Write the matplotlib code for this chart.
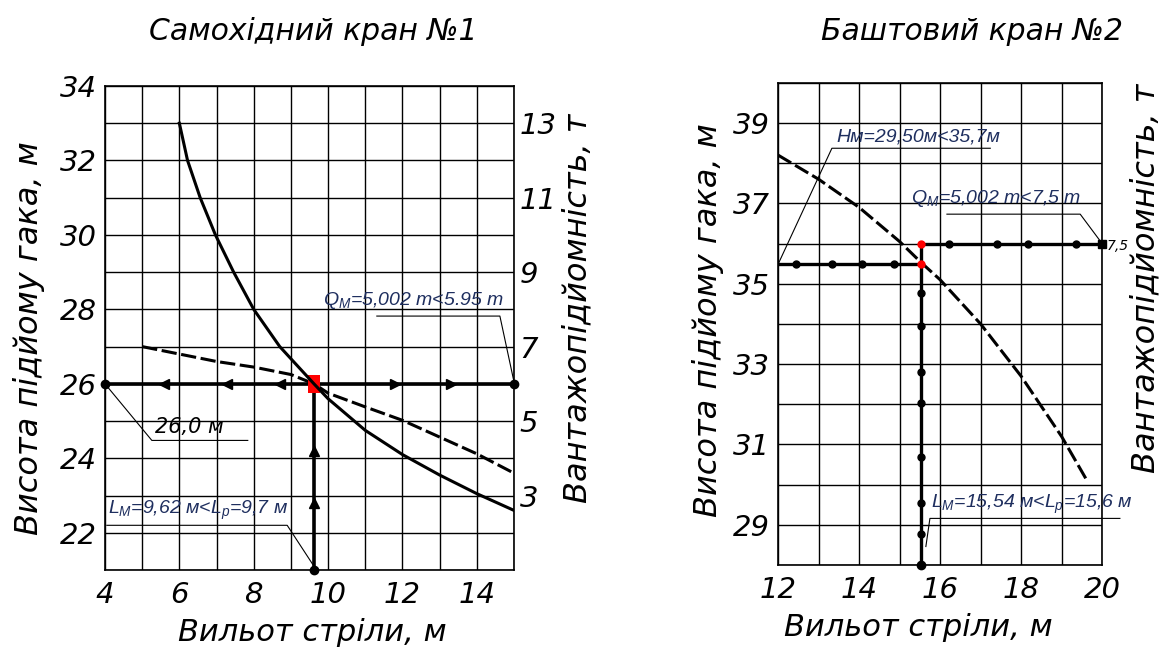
"""Crane capacity / hook-height charts for two cranes (Самохідний / Баштовий)."""

import matplotlib
matplotlib.use("Agg")  # no display
import matplotlib.pyplot as plt
from matplotlib.ticker import MultipleLocator

# ---- crane 1: self-propelled ----
crane1_reach_q = [6.0, 6.22, 6.56, 6.97, 7.46, 8.0, 8.7, 9.62, 10.0, 11.0, 12.0, 13.0, 14.0, 15.0]
crane1_load = [13.0, 12.0, 11.0, 10.0, 9.0, 8.0, 7.0, 6.0, 5.6, 4.75, 4.1, 3.55, 3.05, 2.6]
crane1_reach_h = [5.0, 6.0, 7.0, 8.0, 9.0, 9.62, 10.0, 11.0, 12.0, 13.0, 14.0, 15.0]
crane1_height = [27.0, 26.8, 26.6, 26.45, 26.25, 26.0, 25.75, 25.38, 25.02, 24.57, 24.12, 23.6]
crane1_lm = 9.62
crane1_hm = 26.0
crane1_arrows_left = [5.58, 7.28, 8.7]
crane1_arrows_right = [11.8, 13.3]
crane1_arrows_up = [22.8, 24.2]

# ---- crane 2: tower ----
crane2_reach = [12.0, 13.0, 14.0, 15.0, 15.54, 16.0, 17.0, 18.0, 19.0, 19.6]
crane2_height = [38.2, 37.6, 36.9, 36.05, 35.52, 35.1, 34.0, 32.7, 31.2, 30.15]
crane2_lm = 15.54
crane2_hm = 35.48
crane2_qline = 36.0
crane2_dots_q = [16.21, 17.41, 18.17, 19.36]
crane2_dots_h = [12.45, 13.33, 14.07, 14.86]
crane2_dots_v = [34.78, 33.94, 32.8, 32.03, 30.7, 29.55, 28.77]

plt.rcParams["font.family"] = ["DejaVu Sans"]
plt.rcParams["font.style"] = "italic"
plt.rcParams["mathtext.fontset"] = "custom"
plt.rcParams["mathtext.it"] = "Liberation Sans:italic"
plt.rcParams["mathtext.rm"] = "Liberation Sans:italic"

ANN = "#1f2f5f"
ANN_FONT = ["Liberation Sans Narrow", "Liberation Sans", "DejaVu Sans"]
TICK_SIZE = 21
XLABEL_SIZE = 22
YLABEL_SIZE = 23
TALL_BOX = [(-0.35, -0.5), (0.35, -0.5), (0.35, 0.5), (-0.35, 0.5), (-0.35, -0.5)]


def style_axes(ax, xlim, ylim, xticks, yticks):
    ax.set_xlim(*xlim); ax.set_ylim(*ylim)
    ax.set_xticks(xticks); ax.set_yticks(yticks)
    ax.xaxis.set_minor_locator(MultipleLocator(1))
    ax.yaxis.set_minor_locator(MultipleLocator(1))
    ax.grid(which="both", color="black", lw=1.0, zorder=0)
    ax.set_axisbelow(True)
    ax.tick_params(which="both", length=0, labelsize=TICK_SIZE)
    ax.tick_params(axis="x", pad=8)
    ax.tick_params(axis="y", pad=6)
    for s in ax.spines.values():
        s.set_color("black"); s.set_linewidth(1.2)


fig = plt.figure(figsize=(11.64, 6.52), dpi=100)

# ================= crane 1 =================
ax1 = fig.add_axes([0.0902, 0.1258, 0.3514, 0.7423])
style_axes(ax1, (4, 15), (21, 34), range(4, 15, 2), range(22, 35, 2))
ax1r = ax1.twinx()
ax1r.set_ylim(1, 14)
ax1r.set_yticks(range(3, 14, 2))
ax1r.tick_params(length=0, labelsize=TICK_SIZE, pad=4)
for s in ax1r.spines.values():
    s.set_visible(False)

ax1.plot(crane1_reach_h, crane1_height, color="black", lw=2.2, ls=(0, (5, 1.5)), zorder=3)
ax1r.plot(crane1_reach_q, crane1_load, color="black", lw=2.2, zorder=3)

ax1.plot([4, 15], [crane1_hm, crane1_hm], color="black", lw=2.6, zorder=4)
ax1.plot([crane1_lm, crane1_lm], [21, crane1_hm], color="black", lw=2.6, zorder=4)
ax1.plot(crane1_arrows_left, [crane1_hm] * len(crane1_arrows_left), ls="none",
         marker="<", ms=7, color="black", zorder=5)
ax1.plot(crane1_arrows_right, [crane1_hm] * len(crane1_arrows_right), ls="none",
         marker=">", ms=7, color="black", zorder=5)
ax1.plot([crane1_lm] * len(crane1_arrows_up), crane1_arrows_up, ls="none",
         marker="^", ms=7, color="black", zorder=5)
ax1.plot([4, 15, crane1_lm], [crane1_hm, crane1_hm, 21], ls="none", marker="o",
         ms=6, color="black", zorder=6, clip_on=False)
ax1.plot([crane1_lm], [crane1_hm], ls="none", marker=TALL_BOX, ms=13, color="red",
         mew=0, zorder=7)

# leaders + notes
ax1.plot([4, 5.26, 7.84], [26, 24.48, 24.48], color="black", lw=0.8, zorder=4)
ax1.text(5.35, 24.58, "26,0 м", fontsize=15, color="black", ha="left", va="bottom", zorder=6)

ax1.plot([4.05, 8.9, crane1_lm], [22.2, 22.2, 21.1], color="black", lw=0.8, zorder=4)
ax1.text(4.08, 22.28, "$L_M$=9,62 м<$L_p$=9,7 м", fontsize=14, color=ANN,
         family=ANN_FONT, style="italic", ha="left", va="bottom", zorder=6)

ax1.plot([11.31, 14.62, 15], [27.82, 27.82, 26.05], color="black", lw=0.8, zorder=4)
ax1.text(9.85, 27.95, "$Q_M$=5,002 m<5.95 m", fontsize=14, color=ANN,
         family=ANN_FONT, style="italic", ha="left", va="bottom", zorder=6)

ax1.set_xlabel("Вильот стріли, м", fontsize=XLABEL_SIZE)
ax1.xaxis.set_label_coords(0.506, -0.1)
ax1.set_ylabel("Висота підйому гака, м", fontsize=YLABEL_SIZE, va="center")
ax1.yaxis.set_label_coords(-0.185, 0.48)
ax1r.set_ylabel("Вантажопідйомність, т", fontsize=YLABEL_SIZE, va="center")
ax1r.yaxis.set_label_coords(1.156, 0.541)
fig.text(313 / 1164, 1 - 32 / 652, "Самохідний кран №1", fontsize=21.5,
         ha="center", va="center")

# ================= crane 2 =================
ax2 = fig.add_axes([0.6684, 0.1334, 0.2784, 0.7397])
style_axes(ax2, (12, 20), (28, 40), range(12, 21, 2), range(29, 40, 2))
ax2r = ax2.twinx()
ax2r.set_yticks([])
for s in ax2r.spines.values():
    s.set_visible(False)

ax2.plot(crane2_reach, crane2_height, color="black", lw=2.2, ls=(0, (5, 1.5)), zorder=3)

ax2.plot([12, crane2_lm], [crane2_hm, crane2_hm], color="black", lw=2.4, zorder=4)
ax2.plot([crane2_lm, 20], [crane2_qline, crane2_qline], color="black", lw=2.4, zorder=4)
ax2.plot([crane2_lm, crane2_lm], [28, crane2_qline], color="black", lw=2.4, zorder=4)
ax2.plot(crane2_dots_q, [crane2_qline] * len(crane2_dots_q), ls="none", marker="o",
         ms=5, color="black", zorder=5)
ax2.plot(crane2_dots_h, [crane2_hm] * len(crane2_dots_h), ls="none", marker="o",
         ms=5, color="black", zorder=5)
ax2.plot([crane2_lm] * len(crane2_dots_v), crane2_dots_v, ls="none", marker="o",
         ms=5, color="black", zorder=5)
ax2.plot([crane2_lm], [28], ls="none", marker="o", ms=6, color="black", zorder=5,
         clip_on=False)
ax2.plot([20], [crane2_qline], ls="none", marker="s", ms=6, color="black", zorder=6,
         clip_on=False)
ax2.plot([crane2_lm, crane2_lm], [crane2_qline, crane2_hm], ls="none", marker="o",
         ms=6, color="red", mew=0, zorder=7)
ax2.text(20.12, 35.95, "7,5", fontsize=10, color="black", ha="left", va="center",
         zorder=6, clip_on=False)

ax2.plot([12, 13.33, 17.24], [crane2_hm, 38.37, 38.37], color="black", lw=0.8, zorder=4)
ax2.text(13.45, 38.45, "Hм=29,50м<35,7м", fontsize=14, color=ANN,
         family=ANN_FONT, style="italic", ha="left", va="bottom", zorder=6)

ax2.plot([16.17, 19.46, 20], [36.73, 36.73, crane2_qline], color="black", lw=0.8, zorder=4)
ax2.text(15.28, 36.85, "$Q_M$=5,002 m<7,5 m", fontsize=14, color=ANN,
         family=ANN_FONT, style="italic", ha="left", va="bottom", zorder=6)

ax2.plot([15.65, 15.75, 20.44], [28.46, 29.16, 29.16], color="black", lw=0.8,
         zorder=4, clip_on=False)
ax2.text(15.78, 29.22, "$L_M$=15,54 м<$L_p$=15,6 м", fontsize=14, color=ANN,
         family=ANN_FONT, style="italic", ha="left", va="bottom", zorder=6)

ax2.set_xlabel("Вильот стріли, м", fontsize=XLABEL_SIZE)
ax2.xaxis.set_label_coords(0.432, -0.1)
ax2.set_ylabel("Висота підйому гака, м", fontsize=YLABEL_SIZE, va="center")
ax2.yaxis.set_label_coords(-0.216, 0.508)
ax2r.set_ylabel("Вантажопідйомність, т", fontsize=YLABEL_SIZE, va="center")
ax2r.yaxis.set_label_coords(1.135, 0.595)
fig.text(972 / 1164, 1 - 32 / 652, "Баштовий кран №2", fontsize=21.5,
         ha="center", va="center")

fig.savefig("out.png", dpi=100)
